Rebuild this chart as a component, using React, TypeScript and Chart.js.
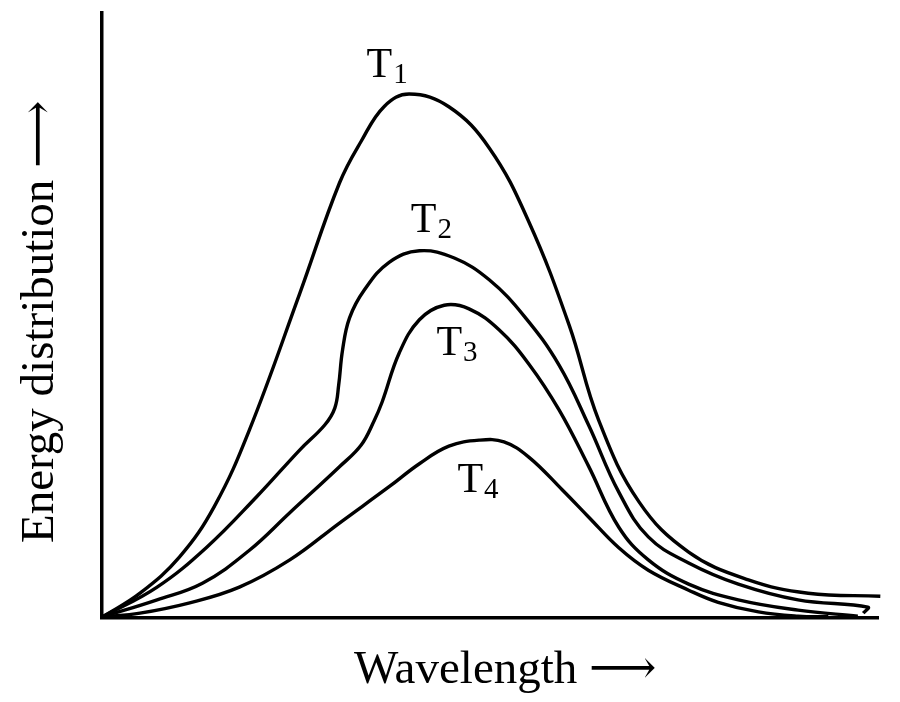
import React, { useEffect, useRef } from "react";
import { Chart, registerables } from "chart.js";

Chart.register(...registerables);

// Wavelength (0-100 arbitrary units) and energy distribution (0-100 arbitrary units)
const t1X = [0.1, 4.9, 10.0, 14.5, 19.0, 25.5, 30.6, 33.4, 36.4, 39.6, 44.7, 49.9, 55.0, 60.2, 64.0, 69.2, 75.6, 83.3, 91.0, 100.3];
const t1Y = [0.2, 4.1, 10.1, 18.5, 31.1, 53.7, 71.9, 78.8, 84.6, 86.6, 84.5, 77.7, 65.5, 48.4, 32.7, 19.2, 10.9, 6.3, 4.1, 3.6];

const t2X = [0.1, 7.1, 13.5, 19.9, 25.5, 28.7, 30.0, 30.5, 31.0, 31.9, 33.8, 37.0, 40.9, 45.4, 49.9, 54.4, 58.9, 62.7, 66.6, 70.4, 75.6, 82.0, 89.7, 98.7, 98.1];
const t2Y = [0.2, 5.1, 11.7, 20.0, 27.8, 31.9, 34.7, 38.5, 44.3, 49.6, 54.2, 58.8, 60.7, 59.5, 55.9, 49.9, 41.8, 31.9, 20.8, 13.4, 9.1, 5.6, 3.0, 1.8, 0.8];

const t3X = [0.1, 7.1, 13.0, 19.0, 24.2, 30.6, 33.4, 35.1, 36.1, 38.3, 40.9, 44.1, 47.3, 51.2, 55.0, 58.9, 62.7, 66.6, 70.4, 75.6, 82.0, 89.7, 97.4];
const t3Y = [0.2, 3.0, 5.8, 11.2, 17.4, 25.0, 28.6, 32.7, 35.7, 43.8, 49.3, 51.7, 51.1, 47.6, 42.0, 34.4, 25.1, 15.0, 9.6, 5.6, 3.0, 1.3, 0.3];

const t4X = [0.1, 4.9, 11.3, 17.7, 24.2, 30.6, 37.0, 40.9, 44.7, 48.6, 51.8, 55.0, 59.3, 62.7, 66.6, 70.4, 75.6, 79.4, 84.6, 89.7, 93.6];
const t4Y = [0.2, 0.8, 2.5, 5.1, 9.6, 15.7, 21.7, 25.5, 28.4, 29.4, 29.1, 26.6, 21.2, 16.7, 11.6, 7.9, 4.6, 2.6, 1.0, 0.3, 0.2];

const seriesNames = ["T1", "T2", "T3", "T4"];
const labelSubs = ["1", "2", "3", "4"];
const labelX = [34.1, 39.8, 43.1, 45.8];
const labelY = [89.4, 63.8, 43.5, 20.8];

const xTitle = "Wavelength ⟶";
const yTitle = "Energy distribution ⟶";

const SERIF = '"Liberation Serif", "Times New Roman", "DejaVu Serif", serif';

function toPoints(xs: number[], ys: number[]) {
  return xs.map((x, i) => ({ x, y: ys[i] }));
}

const textPlugin = {
  id: "textPlugin",
  afterDraw(chart: any) {
    const { ctx, chartArea, scales } = chart;
    ctx.save();
    ctx.fillStyle = "#000";
    ctx.textBaseline = "alphabetic";
    for (let i = 0; i < seriesNames.length; i++) {
      const px = scales.x.getPixelForValue(labelX[i]);
      const py = scales.y.getPixelForValue(labelY[i]);
      ctx.font = `42px ${SERIF}`;
      ctx.textAlign = "left";
      ctx.fillText("T", px, py);
      const w = ctx.measureText("T").width;
      ctx.font = `29px ${SERIF}`;
      ctx.fillText(labelSubs[i], px + w + 1, py + 6);
    }
    ctx.font = `47px ${SERIF}`;
    ctx.textAlign = "left";
    ctx.fillText(xTitle, chartArea.left + 252, chartArea.bottom + 65);
    ctx.save();
    ctx.translate(chartArea.left - 49, chartArea.bottom - 75);
    ctx.rotate(-Math.PI / 2);
    ctx.fillText(yTitle, 0, 0);
    ctx.restore();
    ctx.restore();
  },
};

export default function App() {
  const ref = useRef<HTMLCanvasElement | null>(null);
  useEffect(() => {
    if (!ref.current) return;
    const datasets = [
      toPoints(t1X, t1Y),
      toPoints(t2X, t2Y),
      toPoints(t3X, t3Y),
      toPoints(t4X, t4Y),
    ].map((data, i) => ({
      label: seriesNames[i],
      data,
      borderColor: "#000",
      borderWidth: 3.4,
      pointRadius: 0,
      fill: false,
      tension: 0.4,
      clip: false as any,
    }));
    const chart = new Chart(ref.current, {
      type: "line",
      data: { datasets },
      options: {
        animation: false,
        responsive: true,
        maintainAspectRatio: false,
        layout: { padding: { left: 102, right: 22, top: 13, bottom: 84 } },
        plugins: { legend: { display: false }, tooltip: { enabled: false } },
        scales: {
          x: {
            type: "linear",
            min: 0,
            max: 100,
            grid: { display: false, drawTicks: false },
            ticks: { display: false },
            border: { display: true, color: "#000", width: 3.5 },
          },
          y: {
            type: "linear",
            min: 0,
            max: 100,
            grid: { display: false, drawTicks: false },
            ticks: { display: false },
            border: { display: true, color: "#000", width: 3.5 },
          },
        },
      },
      plugins: [textPlugin],
    });
    return () => chart.destroy();
  }, []);
  return (
    <div style={{ position: "absolute", left: 0, top: 0, width: 900, height: 702, background: "#fff" }}>
      <canvas ref={ref} />
    </div>
  );
}
